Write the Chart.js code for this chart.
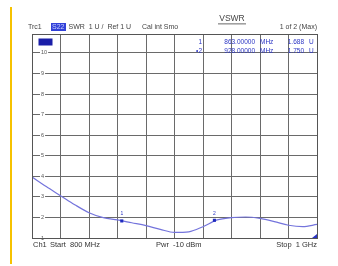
<!DOCTYPE html>
<html lang="en">
<head>
<meta charset="UTF-8">
<title>VSWR</title>
<script src="https://cdn.jsdelivr.net/npm/chart.js"></script>
<style>
  html, body { margin: 0; padding: 0; background: #fff; }
  #wrap { width: 338px; height: 266px; position: relative; }
</style>
</head>
<body>
<div id="wrap"><canvas id="vswr" width="338" height="266"></canvas></div>
<script>
// trace S22, frequency in MHz
const freqs = [800, 810, 820, 830, 840, 850, 860, 870, 880, 890, 900, 910, 920, 930, 940, 950, 960, 970, 980, 990, 1000];
const swr   = [3.97, 3.50, 3.06, 2.62, 2.23, 1.99, 1.88, 1.74, 1.60, 1.42, 1.27, 1.30, 1.55, 1.88, 1.99, 2.02, 1.95, 1.80, 1.62, 1.55, 1.66];

const markerNames = ['1', '2'];
const markerFreqs = [863, 928];
const markerSwr   = [1.83, 1.86];
const markerFreqText = ['863.00000', '928.00000'];
const markerValText  = ['1.688', '1.750'];

const yTicks = [1, 2, 3, 4, 5, 6, 7, 8, 9, 10];

const FONT = '"Liberation Sans", Arial, sans-serif';
const BLUE = '#2a34c4';

const annotations = {
    id: 'annotations',
    beforeDraw(chart) {
        const ctx = chart.ctx;
        ctx.save();
        ctx.fillStyle = '#fff';
        ctx.fillRect(0, 0, chart.width, chart.height);
        // yellow bar at the left
        ctx.fillStyle = '#f6c200';
        ctx.fillRect(10, 7, 2, 257);
        ctx.restore();
    },
    afterDraw(chart) {
        const ctx = chart.ctx;
        const a = chart.chartArea;
        const xs = chart.scales.x, ys = chart.scales.y;
        ctx.save();

        // box
        ctx.strokeStyle = '#555';
        ctx.lineWidth = 1;
        ctx.strokeRect(Math.round(a.left) + 0.5, Math.round(a.top) + 0.5,
            Math.round(a.right - a.left), Math.round(a.bottom - a.top));

        ctx.textBaseline = 'middle';

        // header
        ctx.fillStyle = '#444';
        ctx.font = '7px ' + FONT;
        ctx.textAlign = 'left';
        ctx.fillText('Trc1', 28, 27);
        ctx.fillStyle = '#3140d8';
        ctx.fillRect(51, 23, 15, 8);
        ctx.fillStyle = '#c8d0ff';
        ctx.fillText('S22', 52, 27);
        ctx.fillStyle = '#444';
        ctx.fillText('SWR  1 U /  Ref 1 U', 68.5, 27);
        ctx.fillText('Cal int Smo', 142, 27);
        ctx.textAlign = 'right';
        ctx.fillText('1 of 2 (Max)', 317, 27);

        // title
        ctx.textAlign = 'center';
        ctx.font = '8.5px ' + FONT;
        ctx.fillText('VSWR', 232, 19);
        ctx.fillRect(218, 23.5, 28, 0.8);

        // trace indicator
        ctx.fillStyle = '#1a1ea8';
        ctx.fillRect(38.5, 38.5, 14, 7);

        // marker table
        ctx.font = '6.5px ' + FONT;
        ctx.fillStyle = BLUE;
        markerNames.forEach((n, i) => {
            const y = 42 + i * 9;
            ctx.textAlign = 'right';
            ctx.fillText(i === 1 ? '\u2022' + n : n, 202, y);
            ctx.fillText(markerFreqText[i], 255, y);
            ctx.fillText(markerValText[i], 304, y);
            ctx.textAlign = 'left';
            ctx.fillText('MHz', 260, y);
            ctx.fillText('U', 309, y);
        });

        // marker numbers above markers
        ctx.font = '5px ' + FONT;
        ctx.textAlign = 'center';
        markerNames.forEach((n, i) => {
            ctx.fillText(n, xs.getPixelForValue(markerFreqs[i]), ys.getPixelForValue(markerSwr[i]) - 7);
        });

        // stop triangle
        ctx.beginPath();
        ctx.moveTo(a.right, a.bottom - 4);
        ctx.lineTo(a.right, a.bottom);
        ctx.lineTo(a.right - 5, a.bottom);
        ctx.closePath();
        ctx.fill();

        // footer
        ctx.fillStyle = '#333';
        ctx.font = '7.5px ' + FONT;
        ctx.textAlign = 'left';
        ctx.fillText('Ch1', 33, 245);
        ctx.fillText('Start  800 MHz', 50, 245);
        ctx.fillText('Pwr  -10 dBm', 156, 245);
        ctx.textAlign = 'right';
        ctx.fillText('Stop  1 GHz', 317, 245);
        ctx.restore();
    }
};

new Chart(document.getElementById('vswr'), {
    type: 'line',
    data: {
        datasets: [
            {
                label: 'S22',
                data: freqs.map((f, i) => ({x: f, y: swr[i]})),
                borderColor: '#7474dc',
                borderWidth: 1.2,
                pointRadius: 0,
                tension: 0.4,
                cubicInterpolationMode: 'monotone',
                order: 2
            },
            {
                label: 'Markers',
                data: markerFreqs.map((f, i) => ({x: f, y: markerSwr[i]})),
                showLine: false,
                pointStyle: 'rect',
                pointRadius: 2.2,
                backgroundColor: '#1f2bbf',
                borderColor: '#1f2bbf',
                borderWidth: 0,
                order: 1
            }
        ]
    },
    options: {
        responsive: false,
        animation: false,
        devicePixelRatio: 1,
        layout: { padding: { left: 32, right: 21, top: 34, bottom: 28 } },
        plugins: {
            legend: { display: false },
            tooltip: { enabled: false }
        },
        scales: {
            x: {
                type: 'linear',
                min: 800,
                max: 1000,
                ticks: { stepSize: 20, display: false },
                grid: { color: '#6a6a6a', lineWidth: 1, drawTicks: false },
                border: { color: '#555', width: 1 }
            },
            y: {
                type: 'linear',
                min: 1,
                max: 10.92,
                afterBuildTicks: (axis) => {
                    axis.ticks = yTicks.map(v => ({value: v}));
                },
                afterFit: (axis) => {
                    axis.width = 0;
                },
                ticks: {
                    mirror: true,
                    padding: 9,
                    color: '#555',
                    font: { size: 5.5, family: FONT },
                    showLabelBackdrop: true,
                    backdropColor: '#fff',
                    backdropPadding: 1
                },
                grid: { color: '#6a6a6a', lineWidth: 1, drawTicks: false },
                border: { color: '#555', width: 1 }
            }
        }
    },
    plugins: [annotations]
});
</script>
</body>
</html>
